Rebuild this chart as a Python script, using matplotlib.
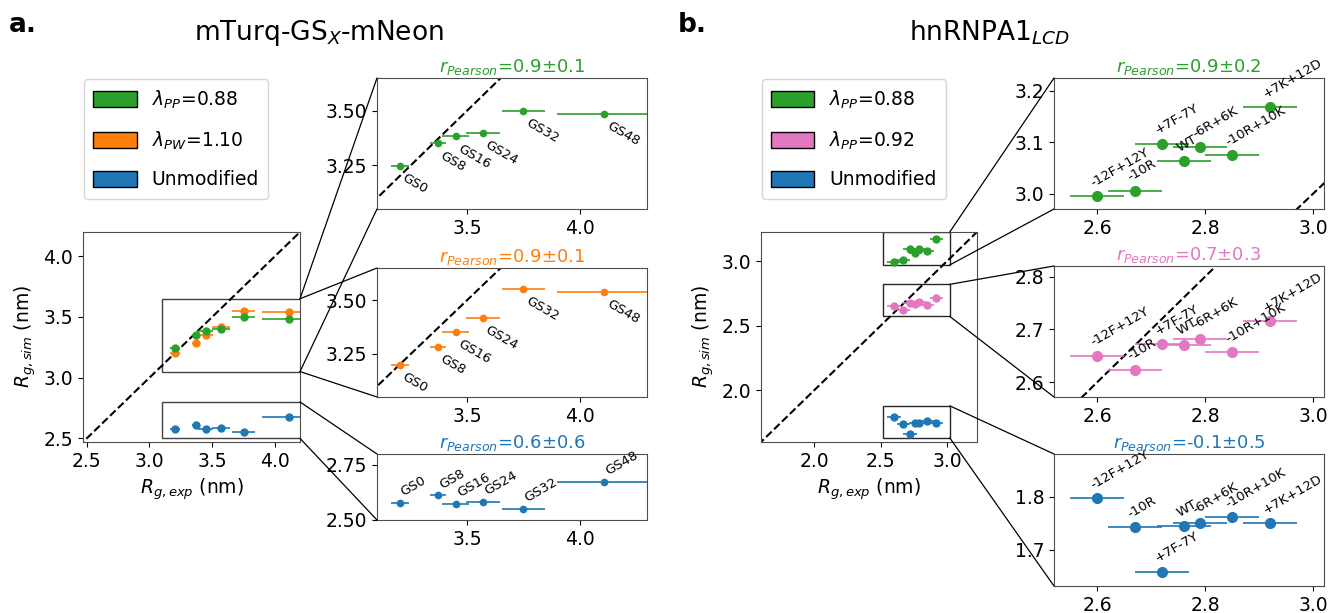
import matplotlib
matplotlib.use('Agg')
import matplotlib.pyplot as plt
from matplotlib.patches import Rectangle, Patch, ConnectionPatch

# ---- data: mTurq-GSx-mNeon ----
gs_labels = ['GS0', 'GS8', 'GS16', 'GS24', 'GS32', 'GS48']
gs_exp = [3.20, 3.37, 3.45, 3.57, 3.75, 4.11]
gs_exp_err = [0.04, 0.035, 0.06, 0.075, 0.095, 0.21]
gs_pp = [3.247, 3.350, 3.383, 3.400, 3.500, 3.486]
gs_pw = [3.201, 3.282, 3.353, 3.417, 3.552, 3.539]
gs_unmod = [2.577, 2.612, 2.574, 2.583, 2.549, 2.672]

# ---- data: hnRNPA1 LCD ----
hn_labels = ['-12F+12Y', '-10R', '+7F-7Y', 'WT', '-6R+6K', '-10R+10K', '+7K+12D']
hn_exp = [2.60, 2.67, 2.72, 2.76, 2.79, 2.85, 2.92]
hn_exp_err = [0.05, 0.05, 0.05, 0.05, 0.05, 0.05, 0.05]
hn_pp088 = [2.995, 3.005, 3.097, 3.063, 3.090, 3.075, 3.168]
hn_pp092 = [2.650, 2.624, 2.672, 2.671, 2.682, 2.657, 2.715]
hn_unmod = [1.797, 1.742, 1.659, 1.744, 1.750, 1.761, 1.750]

pearson_a = ['0.9±0.1', '0.9±0.1', '0.6±0.6']
pearson_b = ['0.9±0.2', '0.7±0.3', '-0.1±0.5']

GREEN, ORANGE, BLUE, PINK = '#2ca02c', '#ff7f0e', '#1f77b4', '#e377c2'

plt.rcParams['font.size'] = 13.5
plt.rcParams['axes.edgecolor'] = '0.3'

fig = plt.figure(figsize=(13.3, 6.13), dpi=100)


def pos(l, t, r, b):
    W, H = 1330., 613.
    return [l / W, 1 - b / H, (r - l) / W, (b - t) / H]


def ebar(ax, x, y, xerr, c, ms):
    ax.errorbar(x, y, xerr=xerr, fmt='o', color=c, ms=ms, lw=1.2, capsize=0)


def connect(main, inset, x, y_top, y_bot):
    for yy, cy in ((y_top, 1), (y_bot, 0)):
        con = ConnectionPatch(xyA=(x, yy), coordsA=main.transData,
                              xyB=(0, cy), coordsB=inset.transAxes,
                              color='k', lw=0.9)
        fig.add_artist(con)


def legend(handles, x):
    fig.legend(handles=handles, loc='upper left',
               bbox_to_anchor=(x / 1330., 1 - 79 / 613.), borderaxespad=0,
               fontsize=13.5, labelspacing=1.0, handlelength=2.3,
               handleheight=1.0, borderpad=0.5)


# ================= panel a =================
axA = fig.add_axes(pos(83, 232, 300, 442))
lim = (2.47, 4.2)
axA.plot([0, 5], [0, 5], 'k--', lw=1.5)
ebar(axA, gs_exp, gs_unmod, gs_exp_err, BLUE, 5)
ebar(axA, gs_exp, gs_pw, gs_exp_err, ORANGE, 5)
ebar(axA, gs_exp, gs_pp, gs_exp_err, GREEN, 5)
axA.set_xlim(lim)
axA.set_ylim(lim)
axA.set_xticks([2.5, 3.0, 3.5, 4.0])
axA.set_yticks([2.5, 3.0, 3.5, 4.0])
axA.set_xlabel('$R_{g,exp}$ (nm)')
axA.set_ylabel('$R_{g,sim}$ (nm)')
axA.add_patch(Rectangle((3.1, 3.05), 1.2, 0.6, fill=False, ec='0.25', lw=1))
axA.add_patch(Rectangle((3.1, 2.5), 1.2, 0.3, fill=False, ec='0.25', lw=1))

insA = [fig.add_axes(pos(377, 78, 647, 209)),
        fig.add_axes(pos(377, 268, 647, 397)),
        fig.add_axes(pos(377, 454, 647, 520))]
seriesA = [gs_pp, gs_pw, gs_unmod]
colsA = [GREEN, ORANGE, BLUE]
ylimsA = [(3.05, 3.65), (3.05, 3.65), (2.5, 2.8)]
for i, ax in enumerate(insA):
    ax.plot([0, 5], [0, 5], 'k--', lw=1.5)
    ebar(ax, gs_exp, seriesA[i], gs_exp_err, colsA[i], 4.5)
    ax.set_xlim(3.1, 4.3)
    ax.set_ylim(ylimsA[i])
    ax.set_xticks([3.5, 4.0])
    if i < 2:
        ax.set_yticks([3.25, 3.50])
    else:
        ax.set_yticks([2.50, 2.75])
    ax.set_title('$r_{Pearson}$=' + pearson_a[i], color=colsA[i], fontsize=13, pad=4)
    for lab, x, y in zip(gs_labels, gs_exp, seriesA[i]):
        if i < 2:
            ax.annotate(lab, (x, y), xytext=(5, -4), textcoords='offset points',
                        rotation=-30, rotation_mode='anchor', ha='left', va='top',
                        fontsize=9.5)
        else:
            ax.annotate(lab, (x, y), xytext=(4, 3), textcoords='offset points',
                        rotation=30, rotation_mode='anchor', ha='left', va='bottom',
                        fontsize=9.5)

connect(axA, insA[0], 4.2, 3.65, 3.05)
connect(axA, insA[1], 4.2, 3.65, 3.05)
connect(axA, insA[2], 4.2, 2.8, 2.5)

legend([Patch(fc=GREEN, ec='k', label='$\\lambda_{PP}$=0.88'),
        Patch(fc=ORANGE, ec='k', label='$\\lambda_{PW}$=1.10'),
        Patch(fc=BLUE, ec='k', label='Unmodified')], 84)

fig.text(319 / 1330., 1 - 33 / 613., 'mTurq-GS$_{X}$-mNeon', fontsize=19,
         ha='center', va='center')
fig.text(0.007, 1 - 25 / 613., 'a.', fontsize=19, weight='bold', va='center')

# ================= panel b =================
axB = fig.add_axes(pos(761, 232, 977, 442))
limB = (1.6, 3.225)
axB.plot([0, 5], [0, 5], 'k--', lw=1.5)
ebar(axB, hn_exp, hn_unmod, hn_exp_err, BLUE, 5)
ebar(axB, hn_exp, hn_pp092, hn_exp_err, PINK, 5)
ebar(axB, hn_exp, hn_pp088, hn_exp_err, GREEN, 5)
axB.set_xlim(limB)
axB.set_ylim(limB)
axB.set_xticks([2.0, 2.5, 3.0])
axB.set_yticks([2.0, 2.5, 3.0])
axB.set_xlabel('$R_{g,exp}$ (nm)')
axB.set_ylabel('$R_{g,sim}$ (nm)')

ylimsB = [(2.97, 3.225), (2.572, 2.82), (1.632, 1.88)]
for lo, hi in ylimsB:
    axB.add_patch(Rectangle((2.52, lo), 0.5, hi - lo, fill=False, ec='0.15', lw=1))

insB = [fig.add_axes(pos(1054, 78, 1324, 209)),
        fig.add_axes(pos(1054, 266, 1324, 397)),
        fig.add_axes(pos(1054, 454, 1324, 586))]
seriesB = [hn_pp088, hn_pp092, hn_unmod]
colsB = [GREEN, PINK, BLUE]
yticksB = [[3.0, 3.1, 3.2], [2.6, 2.7, 2.8], [1.7, 1.8]]
for i, ax in enumerate(insB):
    ax.plot([0, 5], [0, 5], 'k--', lw=1.5)
    ebar(ax, hn_exp, seriesB[i], hn_exp_err, colsB[i], 7)
    ax.set_xlim(2.52, 3.02)
    ax.set_ylim(ylimsB[i])
    ax.set_xticks([2.6, 2.8, 3.0])
    ax.set_yticks(yticksB[i])
    ax.set_title('$r_{Pearson}$=' + pearson_b[i], color=colsB[i], fontsize=13, pad=4)
    for lab, x, y in zip(hn_labels, hn_exp, seriesB[i]):
        ax.annotate(lab, (x, y), xytext=(-2, 5), textcoords='offset points',
                    rotation=30, rotation_mode='anchor', ha='left', va='bottom',
                    fontsize=9.5)
    connect(axB, ax, 3.02, ylimsB[i][1], ylimsB[i][0])

legend([Patch(fc=GREEN, ec='k', label='$\\lambda_{PP}$=0.88'),
        Patch(fc=PINK, ec='k', label='$\\lambda_{PP}$=0.92'),
        Patch(fc=BLUE, ec='k', label='Unmodified')], 762)

fig.text(990 / 1330., 1 - 33 / 613., 'hnRNPA1$_{LCD}$', fontsize=19,
         ha='center', va='center')
fig.text(678 / 1330., 1 - 25 / 613., 'b.', fontsize=19, weight='bold', va='center')

fig.savefig('out.png', dpi=100)
